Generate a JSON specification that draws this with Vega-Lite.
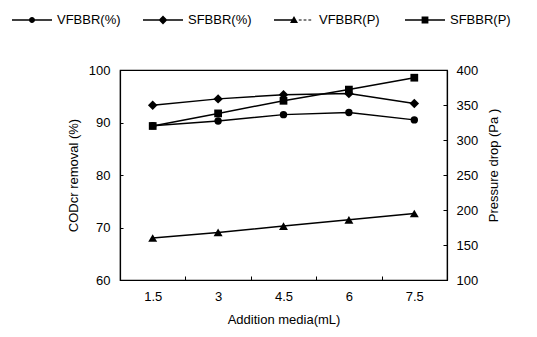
{
  "$schema": "https://vega.github.io/schema/vega-lite/v6.json",
  "width": 327,
  "height": 210,
  "autosize": {"type": "none"},
  "padding": {"left": 120, "top": 70, "right": 90, "bottom": 57},
  "background": "white",
  "config": {
    "font": "Liberation Sans",
    "view": {"stroke": "black", "strokeWidth": 1.2},
    "axis": {
      "grid": false,
      "domainColor": "black",
      "domainWidth": 1.2,
      "tickColor": "black",
      "labelColor": "black",
      "titleColor": "black",
      "labelFont": "Liberation Sans",
      "titleFont": "Liberation Sans",
      "labelFontSize": 13,
      "titleFontSize": 13,
      "titleFontWeight": "normal"
    }
  },
  "datasets": {
    "pct": [
      {"x": "1.5", "series": "VFBBR(%)", "v": 89.4},
      {"x": "3", "series": "VFBBR(%)", "v": 90.3},
      {"x": "4.5", "series": "VFBBR(%)", "v": 91.5},
      {"x": "6", "series": "VFBBR(%)", "v": 91.9},
      {"x": "7.5", "series": "VFBBR(%)", "v": 90.5},
      {"x": "1.5", "series": "SFBBR(%)", "v": 93.3},
      {"x": "3", "series": "SFBBR(%)", "v": 94.5},
      {"x": "4.5", "series": "SFBBR(%)", "v": 95.3},
      {"x": "6", "series": "SFBBR(%)", "v": 95.5},
      {"x": "7.5", "series": "SFBBR(%)", "v": 93.6}
    ],
    "pa": [
      {"x": "1.5", "series": "VFBBR(P)", "v": 160},
      {"x": "3", "series": "VFBBR(P)", "v": 168},
      {"x": "4.5", "series": "VFBBR(P)", "v": 177},
      {"x": "6", "series": "VFBBR(P)", "v": 186},
      {"x": "7.5", "series": "VFBBR(P)", "v": 195},
      {"x": "1.5", "series": "SFBBR(P)", "v": 320},
      {"x": "3", "series": "SFBBR(P)", "v": 338},
      {"x": "4.5", "series": "SFBBR(P)", "v": 356},
      {"x": "6", "series": "SFBBR(P)", "v": 372},
      {"x": "7.5", "series": "SFBBR(P)", "v": 389}
    ],
    "keys": [
      {"series": "VFBBR(%)"},
      {"series": "SFBBR(%)"},
      {"series": "VFBBR(P)"},
      {"series": "SFBBR(P)"}
    ]
  },
  "layer": [
    {
      "data": {"name": "pct"},
      "encoding": {
        "x": {
          "field": "x",
          "type": "ordinal",
          "sort": ["1.5", "3", "4.5", "6", "7.5"],
          "bandPosition": 0.5,
          "scale": {"type": "band", "paddingInner": 0, "paddingOuter": 0},
          "axis": {"title": "Addition media(mL)", "labelAngle": 0, "tickBand": "extent", "tickSize": -4, "labelPadding": 14, "titlePadding": 10}
        },
        "y": {
          "field": "v",
          "type": "quantitative",
          "scale": {"domain": [60, 100], "nice": false, "zero": false},
          "axis": {"title": "CODcr removal (%)", "values": [60, 70, 80, 90, 100], "tickSize": -3, "labelPadding": 13, "titlePadding": 8}
        }
      },
      "layer": [
        {"mark": {"type": "line", "color": "black", "strokeWidth": 1.5}, "encoding": {"detail": {"field": "series"}}},
        {
          "mark": {"type": "point", "filled": true, "color": "black", "opacity": 1},
          "encoding": {
            "shape": {
              "field": "series",
              "type": "nominal",
              "scale": {"domain": ["VFBBR(%)", "SFBBR(%)"], "range": ["circle", "diamond"]},
              "legend": null
            },
            "size": {
              "field": "series",
              "type": "nominal",
              "scale": {"type": "ordinal", "domain": ["VFBBR(%)", "SFBBR(%)"], "range": [55, 90]},
              "legend": null
            }
          }
        }
      ]
    },
    {
      "data": {"name": "pa"},
      "encoding": {
        "x": {
          "field": "x",
          "type": "ordinal",
          "sort": ["1.5", "3", "4.5", "6", "7.5"],
          "bandPosition": 0.5,
          "scale": {"type": "band", "paddingInner": 0, "paddingOuter": 0}
        },
        "y": {
          "field": "v",
          "type": "quantitative",
          "scale": {"domain": [100, 400], "nice": false, "zero": false},
          "axis": {"title": "Pressure drop (Pa )", "orient": "right", "values": [100, 150, 200, 250, 300, 350, 400], "tickSize": -4, "labelPadding": 13, "titlePadding": 10, "titleAngle": 270, "titleBaseline": "top", "titleY": 95}
        }
      },
      "layer": [
        {"mark": {"type": "line", "color": "black", "strokeWidth": 1.5}, "encoding": {"detail": {"field": "series"}}},
        {
          "mark": {"type": "point", "filled": true, "color": "black", "opacity": 1},
          "encoding": {
            "shape": {
              "field": "series",
              "type": "nominal",
              "scale": {"domain": ["VFBBR(P)", "SFBBR(P)"], "range": ["triangle-up", "square"]},
              "legend": null
            },
            "size": {
              "field": "series",
              "type": "nominal",
              "scale": {"type": "ordinal", "domain": ["VFBBR(P)", "SFBBR(P)"], "range": [80, 60]},
              "legend": null
            }
          }
        }
      ]
    },
    {
      "data": {"name": "keys"},
      "transform": [{"filter": "false"}],
      "mark": {"type": "point", "filled": true, "color": "black", "opacity": 1},
      "encoding": {
        "shape": {
          "field": "series",
          "type": "nominal",
          "scale": {
            "domain": ["VFBBR(%)", "SFBBR(%)", "VFBBR(P)", "SFBBR(P)"],
            "range": [
              "M-1,-0.04L1,-0.04L1,0.04L-1,0.04ZM0.15,0A0.15,0.15,0,1,1,-0.15,0A0.15,0.15,0,1,1,0.15,0Z",
              "M-1,-0.04L1,-0.04L1,0.04L-1,0.04ZM0,-0.22L0.22,0L0,0.22L-0.22,0Z",
              "M-1,-0.04L-0.1,-0.04L-0.1,0.04L-1,0.04ZM0,-0.2L0.2,0.15L-0.2,0.15ZM0.24,-0.03L0.38,-0.03L0.38,0.03L0.24,0.03ZM0.48,-0.03L0.62,-0.03L0.62,0.03L0.48,0.03ZM0.72,-0.03L0.86,-0.03L0.86,0.03L0.72,0.03Z",
              "M-1,-0.04L1,-0.04L1,0.04L-1,0.04ZM-0.17,-0.17L0.17,-0.17L0.17,0.17L-0.17,0.17Z"
            ]
          },
          "legend": {
            "title": null,
            "orient": "none",
            "legendX": -108,
            "legendY": -70,
            "direction": "horizontal",
            "columns": 4,
            "gridAlign": "all",
            "columnPadding": 22,
            "padding": 0,
            "symbolSize": 1600,
            "symbolStrokeWidth": 0,
            "symbolFillColor": "black",
            "labelFontSize": 13,
            "labelOffset": 5,
            "labelColor": "black",
            "labelFont": "Liberation Sans"
          }
        }
      }
    }
  ],
  "resolve": {"scale": {"y": "independent", "shape": "independent", "size": "independent"}}
}
